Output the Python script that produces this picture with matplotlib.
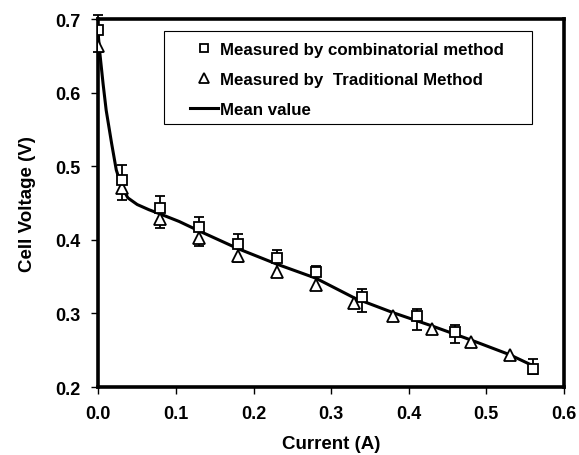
import numpy as np
import matplotlib.pyplot as plt
from matplotlib.patches import Rectangle

plt.rcParams['font.family'] = ['Liberation Sans', 'DejaVu Sans']
plt.rcParams['font.weight'] = 'bold'

# squares: measured by combinatorial method
comb_x = [0.0, 0.03, 0.08, 0.13, 0.18, 0.23, 0.28, 0.34, 0.41, 0.46, 0.56]
comb_v = [0.685, 0.482, 0.443, 0.418, 0.395, 0.376, 0.356, 0.322, 0.296, 0.275, 0.224]

# error bars (centre and half width) at the combinatorial points
bar_mid = [0.680, 0.478, 0.4375, 0.4115, 0.389, 0.368, 0.348, 0.318, 0.292, 0.272, 0.228]
bar_half = [0.025, 0.024, 0.0215, 0.020, 0.019, 0.018, 0.016, 0.0155, 0.014, 0.0125, 0.0105]

# triangles: measured by traditional method
trad_x = [0.0, 0.03, 0.08, 0.13, 0.18, 0.23, 0.28, 0.33, 0.38, 0.43, 0.48, 0.53]
trad_v = [0.664, 0.470, 0.428, 0.403, 0.378, 0.357, 0.338, 0.314, 0.296, 0.279, 0.261, 0.243]

# mean value curve
mean_x = [0.0, 0.002, 0.006, 0.010, 0.017, 0.023, 0.030, 0.038, 0.05, 0.065, 0.08,
          0.104, 0.13, 0.18, 0.23, 0.28, 0.33, 0.38, 0.43, 0.48, 0.53, 0.56]
mean_v = [0.676, 0.652, 0.612, 0.576, 0.531, 0.495, 0.472, 0.457, 0.448, 0.441, 0.435,
          0.425, 0.412, 0.388, 0.367, 0.348, 0.321, 0.301, 0.283, 0.264, 0.244, 0.229]

fig = plt.figure(figsize=(5.79, 4.56), dpi=100)
ax = fig.add_axes([0.170, 0.149, 0.804, 0.807])

ax.plot(mean_x, mean_v, color='black', lw=2.2, label='Mean value', zorder=2)

ax.errorbar(comb_x, bar_mid, yerr=bar_half, fmt='none', ecolor='black',
            elinewidth=1.3, capsize=3.5, capthick=1.3, zorder=3, clip_on=False)

ax.plot(trad_x, trad_v, linestyle='none', marker='^', ms=8, mfc='white',
        mec='black', mew=1.3, label='Measured by  Traditional Method', zorder=4)
ax.plot(comb_x, comb_v, linestyle='none', marker='s', ms=7.5, mfc='white',
        mec='black', mew=1.3, label='Measured by combinatorial method', zorder=5)

ax.set_xlim(0, 0.6)
ax.set_ylim(0.2, 0.7)
ax.set_xticks(np.arange(0, 0.61, 0.1))
ax.set_xticklabels(['0.0', '0.1', '0.2', '0.3', '0.4', '0.5', '0.6'])
ax.set_yticks(np.arange(0.2, 0.71, 0.1))
ax.set_yticklabels(['0.2', '0.3', '0.4', '0.5', '0.6', '0.7'])
ax.tick_params(direction='out', length=5, width=1, labelsize=13, pad=8)

for s in ax.spines.values():
    s.set_linewidth(2.6)

ax.set_xlabel('Current (A)', fontsize=13.5, fontweight='bold', labelpad=9)
ax.set_ylabel('Cell Voltage (V)', fontsize=13.5, fontweight='bold', labelpad=14)

# legend box is wider than the entries, so draw the frame separately
ax.add_patch(Rectangle((0.141, 0.714), 0.790, 0.253, transform=ax.transAxes,
                       facecolor='white', edgecolor='black', lw=0.8, zorder=6))

h, l = ax.get_legend_handles_labels()
order = [2, 1, 0]
leg = ax.legend([h[i] for i in order], [l[i] for i in order],
                loc='upper left', bbox_to_anchor=(0.197, 0.939), frameon=False,
                handlelength=1.63, borderpad=0, borderaxespad=0,
                labelspacing=0.9, handletextpad=0.15, markerscale=0.85,
                prop={'weight': 'bold', 'size': 12.2})
leg.set_zorder(7)

fig.savefig('out.png', dpi=100)
